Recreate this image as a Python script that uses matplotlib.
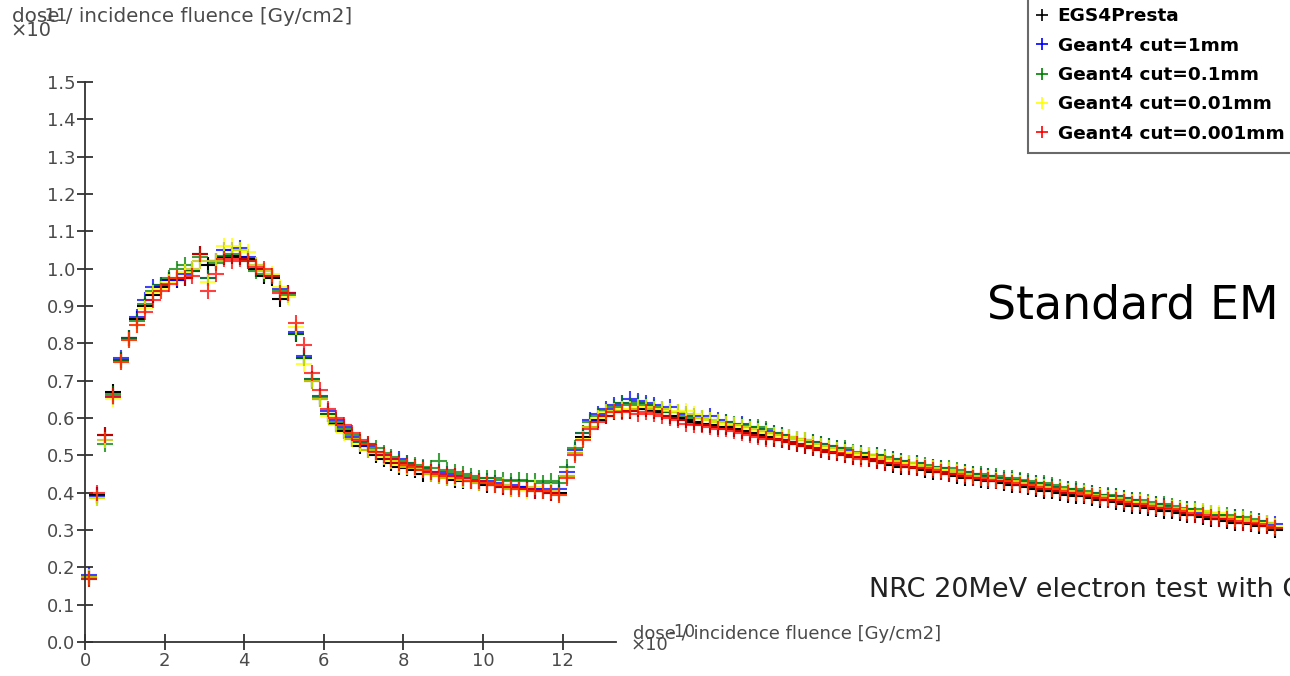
import numpy as np
import matplotlib.pyplot as plt
from matplotlib.lines import Line2D

# depth bins (centres), x10 scale as on the axis
x = np.arange(0.1, 30.0, 0.2)

egs4 = [0.175, 0.395, 0.555, 0.670, 0.755, 0.815, 0.865, 0.900, 0.930, 0.950,
        0.970, 0.970, 0.975, 0.995, 1.040, 1.010, 1.020, 1.030, 1.035, 1.030,
        1.025, 1.000, 0.980, 0.975, 0.920, 0.935, 0.825, 0.760, 0.700, 0.650,
        0.610, 0.585, 0.565, 0.545, 0.525, 0.515, 0.500, 0.490, 0.480, 0.470,
        0.465, 0.460, 0.450, 0.450, 0.445, 0.440, 0.435, 0.430, 0.430, 0.425,
        0.420, 0.420, 0.415, 0.410, 0.415, 0.410, 0.405, 0.405, 0.400, 0.400,
        0.445, 0.505, 0.550, 0.575, 0.595, 0.605, 0.615, 0.620, 0.620, 0.625,
        0.625, 0.620, 0.615, 0.605, 0.600, 0.595, 0.590, 0.585, 0.580, 0.575,
        0.575, 0.570, 0.565, 0.560, 0.555, 0.550, 0.545, 0.540, 0.535, 0.530,
        0.525, 0.520, 0.515, 0.510, 0.505, 0.500, 0.495, 0.495, 0.490, 0.485,
        0.480, 0.475, 0.470, 0.470, 0.465, 0.460, 0.455, 0.455, 0.450, 0.445,
        0.440, 0.440, 0.435, 0.430, 0.430, 0.425, 0.420, 0.420, 0.415, 0.410,
        0.405, 0.405, 0.400, 0.395, 0.390, 0.390, 0.385, 0.380, 0.380, 0.375,
        0.370, 0.365, 0.365, 0.360, 0.355, 0.350, 0.350, 0.345, 0.340, 0.340,
        0.335, 0.330, 0.330, 0.325, 0.320, 0.320, 0.315, 0.310, 0.310, 0.300]

g4_1mm = [0.180, 0.390, 0.540, 0.655, 0.760, 0.815, 0.870, 0.915, 0.950, 0.955,
          0.970, 0.970, 0.985, 1.000, 1.020, 0.975, 1.020, 1.050, 1.050, 1.055,
          1.030, 1.010, 0.995, 0.980, 0.945, 0.935, 0.830, 0.765, 0.705, 0.660,
          0.620, 0.595, 0.575, 0.550, 0.535, 0.525, 0.510, 0.500, 0.490, 0.490,
          0.480, 0.470, 0.465, 0.455, 0.455, 0.450, 0.445, 0.440, 0.435, 0.430,
          0.430, 0.425, 0.420, 0.420, 0.415, 0.415, 0.410, 0.410, 0.405, 0.410,
          0.455, 0.515, 0.560, 0.595, 0.610, 0.625, 0.635, 0.640, 0.650, 0.645,
          0.640, 0.635, 0.625, 0.630, 0.615, 0.610, 0.605, 0.600, 0.605, 0.595,
          0.590, 0.580, 0.585, 0.575, 0.570, 0.565, 0.560, 0.555, 0.550, 0.545,
          0.540, 0.535, 0.530, 0.525, 0.520, 0.515, 0.505, 0.505, 0.500, 0.500,
          0.490, 0.490, 0.485, 0.480, 0.480, 0.470, 0.470, 0.465, 0.460, 0.455,
          0.455, 0.450, 0.445, 0.445, 0.440, 0.435, 0.435, 0.430, 0.425, 0.425,
          0.420, 0.415, 0.410, 0.410, 0.405, 0.400, 0.400, 0.395, 0.390, 0.390,
          0.385, 0.380, 0.375, 0.370, 0.370, 0.365, 0.360, 0.355, 0.355, 0.350,
          0.345, 0.345, 0.340, 0.335, 0.335, 0.330, 0.325, 0.325, 0.320, 0.315]

g4_01mm = [0.170, 0.385, 0.530, 0.665, 0.755, 0.815, 0.860, 0.905, 0.940, 0.955,
           0.975, 1.000, 1.010, 0.995, 1.030, 0.975, 1.015, 1.035, 1.040, 1.050,
           1.020, 0.995, 0.985, 0.980, 0.940, 0.930, 0.825, 0.760, 0.705, 0.655,
           0.610, 0.590, 0.570, 0.555, 0.535, 0.530, 0.520, 0.505, 0.495, 0.485,
           0.480, 0.475, 0.470, 0.465, 0.485, 0.460, 0.455, 0.450, 0.445, 0.440,
           0.440, 0.440, 0.435, 0.430, 0.435, 0.430, 0.430, 0.425, 0.430, 0.425,
           0.470, 0.520, 0.560, 0.590, 0.605, 0.620, 0.630, 0.640, 0.635, 0.640,
           0.635, 0.630, 0.625, 0.615, 0.615, 0.605, 0.600, 0.600, 0.595, 0.590,
           0.590, 0.585, 0.580, 0.575, 0.575, 0.570, 0.560, 0.555, 0.550, 0.545,
           0.540, 0.535, 0.530, 0.525, 0.520, 0.520, 0.510, 0.505, 0.500, 0.500,
           0.495, 0.490, 0.485, 0.480, 0.480, 0.475, 0.470, 0.465, 0.465, 0.460,
           0.455, 0.450, 0.450, 0.445, 0.445, 0.440, 0.440, 0.435, 0.430, 0.425,
           0.425, 0.420, 0.415, 0.410, 0.410, 0.405, 0.400, 0.395, 0.395, 0.390,
           0.385, 0.380, 0.380, 0.375, 0.370, 0.370, 0.365, 0.360, 0.355, 0.355,
           0.350, 0.345, 0.340, 0.340, 0.335, 0.335, 0.330, 0.325, 0.320, 0.305]

g4_001mm = [0.175, 0.385, 0.540, 0.650, 0.750, 0.810, 0.850, 0.895, 0.935, 0.945,
            0.965, 0.975, 0.990, 1.000, 1.020, 0.965, 1.020, 1.060, 1.060, 1.050,
            1.045, 1.010, 0.995, 0.985, 0.950, 0.925, 0.845, 0.745, 0.700, 0.650,
            0.605, 0.580, 0.560, 0.545, 0.530, 0.515, 0.505, 0.495, 0.485, 0.475,
            0.470, 0.465, 0.460, 0.450, 0.445, 0.440, 0.440, 0.435, 0.430, 0.425,
            0.425, 0.420, 0.420, 0.410, 0.410, 0.405, 0.415, 0.405, 0.405, 0.395,
            0.445, 0.505, 0.545, 0.575, 0.600, 0.615, 0.620, 0.625, 0.625, 0.630,
            0.630, 0.625, 0.625, 0.620, 0.615, 0.620, 0.610, 0.600, 0.595, 0.590,
            0.585, 0.580, 0.575, 0.570, 0.565, 0.560, 0.555, 0.550, 0.550, 0.545,
            0.540, 0.530, 0.525, 0.520, 0.515, 0.510, 0.505, 0.500, 0.500, 0.495,
            0.490, 0.485, 0.480, 0.480, 0.475, 0.470, 0.465, 0.460, 0.460, 0.455,
            0.450, 0.445, 0.440, 0.440, 0.435, 0.430, 0.430, 0.425, 0.420, 0.420,
            0.415, 0.410, 0.410, 0.405, 0.400, 0.400, 0.395, 0.390, 0.385, 0.385,
            0.380, 0.375, 0.375, 0.370, 0.365, 0.360, 0.360, 0.355, 0.350, 0.350,
            0.350, 0.345, 0.345, 0.335, 0.330, 0.330, 0.325, 0.320, 0.320, 0.310]

g4_0001mm = [0.170, 0.400, 0.555, 0.660, 0.750, 0.810, 0.850, 0.885, 0.915, 0.940,
             0.960, 0.975, 0.975, 0.980, 1.040, 0.940, 0.985, 1.025, 1.020, 1.025,
             1.020, 1.005, 1.000, 0.980, 0.935, 0.935, 0.855, 0.795, 0.720, 0.675,
             0.625, 0.600, 0.580, 0.560, 0.540, 0.530, 0.510, 0.500, 0.490, 0.480,
             0.475, 0.470, 0.460, 0.455, 0.450, 0.445, 0.445, 0.440, 0.430, 0.430,
             0.425, 0.420, 0.415, 0.415, 0.410, 0.410, 0.405, 0.405, 0.400, 0.395,
             0.440, 0.500, 0.540, 0.570, 0.590, 0.605, 0.615, 0.615, 0.620, 0.610,
             0.615, 0.610, 0.605, 0.600, 0.595, 0.585, 0.580, 0.580, 0.575, 0.570,
             0.570, 0.565, 0.560, 0.555, 0.550, 0.545, 0.545, 0.540, 0.535, 0.530,
             0.525, 0.520, 0.515, 0.510, 0.505, 0.500, 0.495, 0.490, 0.490, 0.485,
             0.480, 0.480, 0.475, 0.470, 0.465, 0.465, 0.460, 0.455, 0.450, 0.450,
             0.445, 0.440, 0.440, 0.435, 0.430, 0.430, 0.425, 0.420, 0.420, 0.415,
             0.410, 0.410, 0.405, 0.400, 0.400, 0.395, 0.390, 0.385, 0.380, 0.380,
             0.375, 0.370, 0.370, 0.365, 0.360, 0.360, 0.355, 0.350, 0.345, 0.340,
             0.340, 0.335, 0.330, 0.330, 0.325, 0.320, 0.320, 0.315, 0.310, 0.305]

labels = ['EGS4Presta', 'Geant4 cut=1mm', 'Geant4 cut=0.1mm',
          'Geant4 cut=0.01mm', 'Geant4 cut=0.001mm']
colors = ['black', '#0000ff', '#008000', '#ffff00', '#ff0000']
series = [egs4, g4_1mm, g4_01mm, g4_001mm, g4_0001mm]

fig = plt.figure(figsize=(12.9, 6.76), dpi=100)
ax = fig.add_axes([85 / 1290, 34 / 676, 1194 / 1290, 560 / 676])

for y, c in zip(series, colors):
    a = 1.0 if c == 'black' else 0.75
    ax.plot(x, y, '+', color=c, ms=11.5, mew=1.5, alpha=a, clip_on=False)

ax.set_xlim(0, 30)
ax.set_ylim(0, 1.5)
for s in ['top', 'right']:
    ax.spines[s].set_visible(False)
ax.spines['bottom'].set_bounds(0, 13.35)
ax.spines['left'].set_bounds(0, 1.5)
for s in ['bottom', 'left']:
    ax.spines[s].set_color('#333333')
    ax.spines[s].set_linewidth(1.3)

ax.set_xticks(range(0, 13, 2))
ax.set_yticks(np.arange(0, 1.51, 0.1))
ax.set_yticklabels(['%.1f' % v for v in np.arange(0, 1.51, 0.1)])
ax.tick_params(direction='inout', length=12, width=1.3, color='#333333',
               labelcolor='#4a4a4a', labelsize=13, pad=1)

# axis titles and multipliers, overlapping as in the original
gray = '#4a4a4a'
fig.text(12 / 1290, 1 - 17 / 676, 'dose / incidence fluence [Gy/cm2]',
         fontsize=14.3, color=gray, va='center')
fig.text(10 / 1290, 1 - 30 / 676, '\u00d710', fontsize=14, color=gray,
         va='center')
fig.text(38 / 1290, 1 - 16 / 676, '-11', fontsize=13, color=gray,
         va='center')
fig.text(633 / 1290, 1 - 634 / 676, 'dose / incidence fluence [Gy/cm2]',
         fontsize=13, color=gray, va='center')
fig.text(631 / 1290, 1 - 645 / 676, '\u00d710', fontsize=13, color=gray,
         va='center')
fig.text(668 / 1290, 1 - 632 / 676, '-10', fontsize=12, color=gray,
         va='center')

fig.text(987 / 1290, 1 - 318 / 676, 'Standard EM', fontsize=33, color='black')
fig.text(869 / 1290, 1 - 597 / 676, 'NRC 20MeV electron test with Geant4',
         fontsize=19.5, color='#222222')

handles = [Line2D([], [], ls='none', marker='+', color=c, ms=9, mew=1.2)
           for c in colors]
leg = fig.legend(handles, labels, loc='lower left',
                 bbox_to_anchor=(1028 / 1290, 1 - 153 / 676),
                 prop={'size': 13.3, 'weight': 'bold'}, frameon=True,
                 fancybox=False, handlelength=0.4, handletextpad=0.65,
                 labelspacing=0.615, borderpad=0.55, borderaxespad=0)
leg.get_frame().set_edgecolor('#444444')
leg.get_frame().set_linewidth(1.5)

fig.savefig('out.png', dpi=100)
